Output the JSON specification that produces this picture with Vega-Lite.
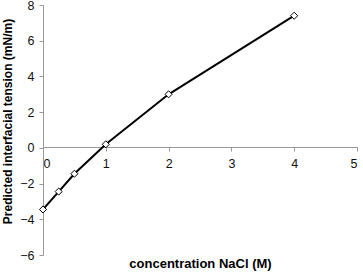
{
  "$schema": "https://vega.github.io/schema/vega-lite/v6.json",
  "autosize": "none",
  "width": 314,
  "height": 250,
  "padding": {"left": 43, "top": 5, "right": 6, "bottom": 18},
  "background": "white",
  "config": {"view": {"stroke": null}, "font": "Liberation Sans"},
  "data": {"values": [
    {"c": 0, "t": -3.45},
    {"c": 0.25, "t": -2.45},
    {"c": 0.5, "t": -1.45},
    {"c": 1, "t": 0.2},
    {"c": 2, "t": 3.0},
    {"c": 4, "t": 7.4}
  ]},
  "encoding": {
    "x": {"field": "c", "type": "quantitative",
      "scale": {"domain": [0, 5], "nice": false, "zero": false},
      "axis": {"values": [0,1,2,3,4,5], "grid": false, "offset": -108,
        "domainColor": "#999", "tickColor": "#999", "tickSize": 4,
        "labelFontSize": 12.5, "labelColor": "#111", "labelPadding": 6,
        "title": "concentration NaCl (M)", "titleFontSize": 13, "titleFontWeight": "bold",
        "titleColor": "#000", "titleY": 120, "titleBaseline": "alphabetic"}},
    "y": {"field": "t", "type": "quantitative",
      "scale": {"domain": [-6, 8], "nice": false, "zero": false},
      "axis": {"values": [-6,-4,-2,0,2,4,6,8], "grid": false,
        "domainColor": "#999", "tickColor": "#999", "tickSize": 4,
        "labelFontSize": 12.5, "labelColor": "#111", "labelPadding": 5,
        "title": "Predicted interfacial tension (mN/m)", "titleFontSize": 12, "titleFontWeight": "bold",
        "titleColor": "#000", "titleX": -29, "titleY": 116}}
  },
  "layer": [
    {"mark": {"type": "line", "color": "#000", "strokeWidth": 2}},
    {"mark": {"type": "point", "shape": "diamond", "filled": true, "fill": "white", "stroke": "#000", "strokeWidth": 1, "size": 50, "opacity": 1}}
  ]
}
